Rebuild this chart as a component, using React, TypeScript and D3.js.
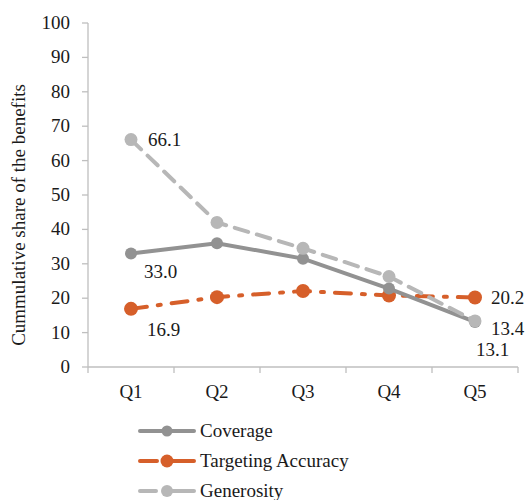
import React from "react";
import * as d3 from "d3";

const categories = ["Q1", "Q2", "Q3", "Q4", "Q5"];
const coverage = [33.0, 36.0, 31.5, 22.8, 13.1];
const targeting = [16.9, 20.3, 22.1, 20.8, 20.2];
const generosity = [66.1, 42.0, 34.5, 26.3, 13.4];
const yTicks = [0, 10, 20, 30, 40, 50, 60, 70, 80, 90, 100];
const seriesNames = ["Coverage", "Targeting Accuracy", "Generosity"];

const W = 526, H = 500;
const left = 88, right = 518, top = 23, bottom = 367;
const font = "Liberation Serif";
const fs = 19;
const ts = { fontFamily: font };

export default function App() {
  const x = d3.scaleBand<string>().domain(categories).range([left, right]);
  const y = d3.scaleLinear().domain([0, 100]).range([bottom, top]);
  const cx = (c: string) => (x(c) as number) + x.bandwidth() / 2;
  const line = d3.line<[number, number]>().x((d) => d[0]).y((d) => d[1]);

  const series = [
    { name: seriesNames[0], values: coverage, color: "#929292", dash: "", r: 6 },
    { name: seriesNames[1], values: targeting, color: "#D65F2A", dash: "16,11,3,11", r: 7 },
    { name: seriesNames[2], values: generosity, color: "#B7B7B7", dash: "14,9", r: 6.5 },
  ];
  const drawOrder = [series[1], series[0], series[2]];

  const labels = [
    { text: generosity[0].toFixed(1), x: cx("Q1") + 17, y: y(generosity[0]) + 6 },
    { text: coverage[0].toFixed(1), x: cx("Q1") + 13, y: y(coverage[0]) + 25 },
    { text: targeting[0].toFixed(1), x: cx("Q1") + 16, y: y(targeting[0]) + 27 },
    { text: targeting[4].toFixed(1), x: cx("Q5") + 16, y: y(targeting[4]) + 6 },
    { text: generosity[4].toFixed(1), x: cx("Q5") + 16, y: y(generosity[4]) + 14 },
    { text: coverage[4].toFixed(1), x: cx("Q5") + 1, y: y(coverage[4]) + 34 },
  ];

  return (
    <svg width={W} height={H} style={{ position: "absolute", left: 0, top: 0, background: "#fff" }}>
      {/* y axis */}
      <line x1={left} x2={left} y1={top} y2={bottom} stroke="#BFBFBF" strokeWidth={1.3} />
      {yTicks.map((t) => (
        <g key={t}>
          <line x1={left - 6} x2={left} y1={y(t)} y2={y(t)} stroke="#BFBFBF" strokeWidth={1.3} />
          <text x={70} y={y(t) + 6} textAnchor="end" style={ts} fontSize={fs} fill="#1a1a1a">{t}</text>
        </g>
      ))}
      {/* x axis */}
      <line x1={left} x2={right} y1={bottom} y2={bottom} stroke="#BFBFBF" strokeWidth={1.3} />
      {categories.map((c) => (
        <line key={"tk" + c} x1={x(c) as number} x2={x(c) as number} y1={bottom} y2={bottom + 6} stroke="#BFBFBF" strokeWidth={1.3} />
      ))}
      <line x1={right} x2={right} y1={bottom} y2={bottom + 6} stroke="#BFBFBF" strokeWidth={1.3} />
      {categories.map((c) => (
        <text key={c} x={cx(c)} y={398} textAnchor="middle" style={ts} fontSize={fs} fill="#1a1a1a">{c}</text>
      ))}
      <text transform={`translate(25,${215}) rotate(-90)`} textAnchor="middle" style={ts} fontSize={fs} fill="#1a1a1a">
        Cummulative share of the benefits
      </text>
      {/* series */}
      {drawOrder.map((s) => {
        const pts: [number, number][] = s.values.map((v, i) => [cx(categories[i]), y(v)]);
        return (
          <g key={s.name}>
            <path d={line(pts) as string} fill="none" stroke={s.color} strokeWidth={4} strokeDasharray={s.dash || undefined} strokeLinecap="round" />
            {pts.map((p, i) => (
              <circle key={i} cx={p[0]} cy={p[1]} r={s.r} fill={s.color} />
            ))}
          </g>
        );
      })}
      {labels.map((l, i) => (
        <text key={i} x={l.x} y={l.y} style={ts} fontSize={fs} fill="#1a1a1a">{l.text}</text>
      ))}
      {/* legend */}
      {series.map((s, i) => {
        const ly = 431 + i * 30;
        return (
          <g key={"lg" + s.name}>
            <line x1={140} x2={194} y1={ly} y2={ly} stroke={s.color} strokeWidth={4}
              strokeDasharray={i === 1 ? "17,8,40" : i === 2 ? "16,9,30" : undefined} strokeLinecap="round" />
            {i === 1 && <line x1={168} x2={193} y1={ly} y2={ly} stroke={s.color} strokeWidth={0.8} />}
            <circle cx={167} cy={ly} r={s.r - 0.5} fill={s.color} />
            <text x={200} y={ly + 6} style={ts} fontSize={fs} fill="#1a1a1a">{s.name}</text>
          </g>
        );
      })}
    </svg>
  );
}
